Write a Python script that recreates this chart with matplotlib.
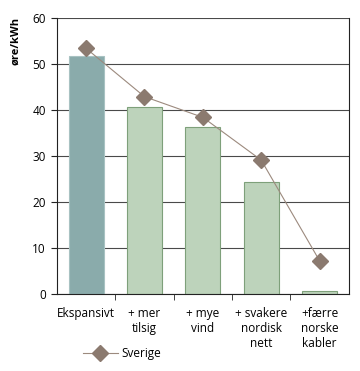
import numpy as np
import matplotlib.pyplot as plt

plt.rcParams['font.family'] = ['Open Sans', 'DejaVu Sans']

# Data
kategorier = ["Ekspansivt", "+ mer\ntilsig", "+ mye\nvind", "+ svakere\nnordisk\nnett", "+færre\nnorske\nkabler"]
norge = [51.7, 40.7, 36.4, 24.4, 0.6]
sverige = [53.4, 42.9, 38.4, 29.1, 7.2]

bar_farger = ["#8aabab", "#bdd3bb", "#bdd3bb", "#bdd3bb", "#bdd3bb"]
kant_farger = ["#a8c2c2", "#7ea07a", "#7ea07a", "#7ea07a", "#7ea07a"]

fig = plt.figure(figsize=(3.6, 3.71), dpi=100)
ax = fig.add_axes([0.158, 0.2075, 0.811, 0.744])

x = np.arange(len(kategorier))
ax.bar(x, norge, width=0.6, color=bar_farger, edgecolor=kant_farger, linewidth=0.8, zorder=2)
ax.plot(x, sverige, color="#9c8a7e", linewidth=0.8, marker="D", markersize=8,
        markerfacecolor="#8b7a6f", markeredgecolor="#8b7a6f", label="Sverige", zorder=3)

ax.set_xlim(-0.5, len(kategorier) - 0.5)
ax.set_ylim(0, 60)
ax.set_yticks(range(0, 61, 10))
ax.yaxis.grid(True, color="#4a4a4a", linewidth=0.8, zorder=0)
ax.set_axisbelow(True)

ax.set_xticks(x)
ax.set_xticklabels(kategorier, fontsize=8.5, linespacing=1.2)
ax.tick_params(axis="x", length=0, pad=9)
ax.set_xticks(np.arange(0.5, len(kategorier) - 0.5), minor=True)
ax.tick_params(axis="x", which="minor", length=4, direction="out", color="#222222")
ax.tick_params(axis="y", labelsize=8.5, length=4, color="#222222", pad=4)

for side in ["left", "bottom", "right"]:
    ax.spines[side].set_color("#222222")
    ax.spines[side].set_linewidth(0.8)
ax.spines["top"].set_visible(False)

ax.set_ylabel("øre/kWh", fontsize=8, fontweight="bold", loc="top")
ax.yaxis.set_label_coords(-0.123, 1.005)

fig.legend(loc="lower left", bbox_to_anchor=(0.2, 0.0), frameon=False, fontsize=8.5,
           handlelength=3, handletextpad=0.3)

fig.savefig("out.png", dpi=100)
